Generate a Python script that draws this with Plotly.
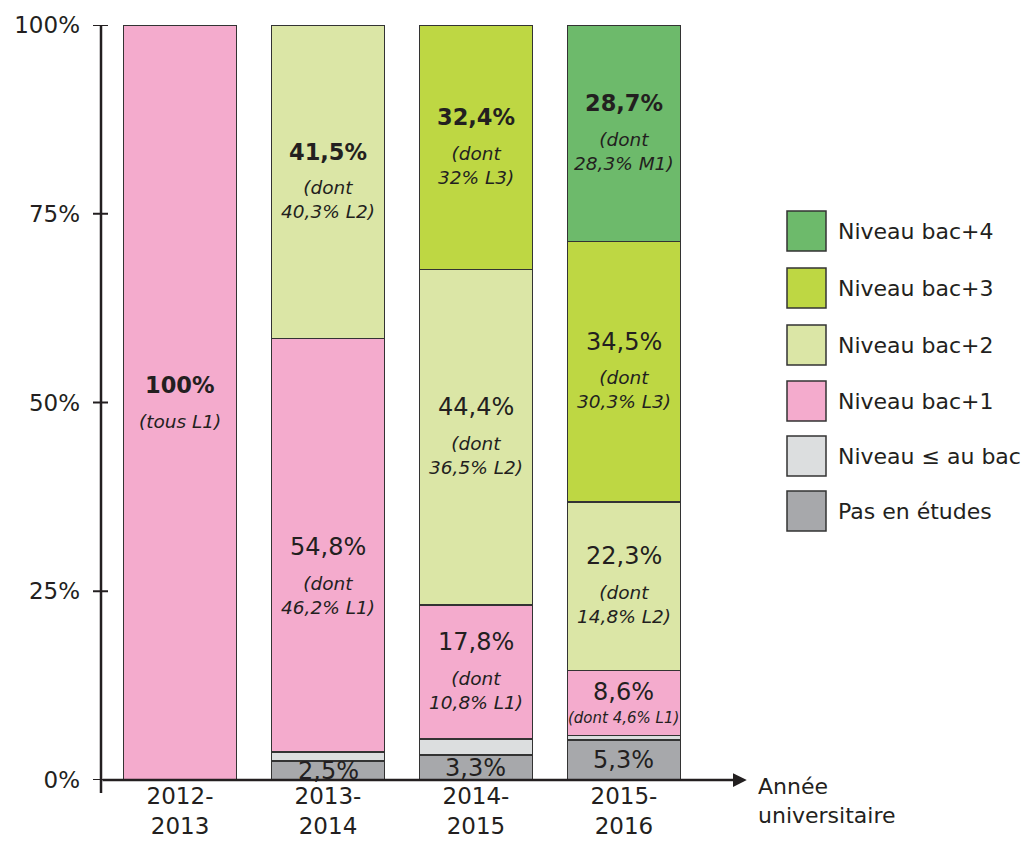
import plotly.graph_objects as go

# ---------------- data ----------------
years = ["2012-<br>2013", "2013-<br>2014", "2014-<br>2015", "2015-<br>2016"]
x_pos = [0, 1, 2, 3]

series_names = ["Pas en études", "Niveau ≤ au bac", "Niveau bac+1",
                "Niveau bac+2", "Niveau bac+3", "Niveau bac+4"]
pas_etudes = [None, 2.5, 3.3, 5.3]
niveau_le_bac = [None, 1.2, 2.1, 0.6]
bac1 = [100, 54.8, 17.8, 8.6]
bac2 = [None, 41.5, 44.4, 22.3]
bac3 = [None, None, 32.4, 34.5]
bac4 = [None, None, None, 28.7]

# main label and detail label for each series / year
main_labels = {
    "Pas en études": [None, "2,5%", "3,3%", "5,3%"],
    "Niveau ≤ au bac": [None, None, None, None],
    "Niveau bac+1": ["<b>100%</b>", "54,8%", "17,8%", "8,6%"],
    "Niveau bac+2": [None, "<b>41,5%</b>", "44,4%", "22,3%"],
    "Niveau bac+3": [None, None, "<b>32,4%</b>", "34,5%"],
    "Niveau bac+4": [None, None, None, "<b>28,7%</b>"],
}
detail_labels = {
    "Niveau bac+1": ["(tous L1)", "(dont<br>46,2% L1)", "(dont<br>10,8% L1)", "(dont 4,6% L1)"],
    "Niveau bac+2": [None, "(dont<br>40,3% L2)", "(dont<br>36,5% L2)", "(dont<br>14,8% L2)"],
    "Niveau bac+3": [None, None, "(dont<br>32% L3)", "(dont<br>30,3% L3)"],
    "Niveau bac+4": [None, None, None, "(dont<br>28,3% M1)"],
}
y_ticks = [0, 25, 50, 75, 100]
y_ticktext = ["0%", "25%", "50%", "75%", "100%"]

colors = {
    "Pas en études": "#a7a8ab",
    "Niveau ≤ au bac": "#dcdedf",
    "Niveau bac+1": "#f4abcd",
    "Niveau bac+2": "#dbe6a6",
    "Niveau bac+3": "#bed743",
    "Niveau bac+4": "#6dba6b",
}
values = {
    "Pas en études": pas_etudes,
    "Niveau ≤ au bac": niveau_le_bac,
    "Niveau bac+1": bac1,
    "Niveau bac+2": bac2,
    "Niveau bac+3": bac3,
    "Niveau bac+4": bac4,
}

FONT = "DejaVu Sans"
TXT = "#231f20"
LINE = "#333333"
BAR_W = 0.764

fig = go.Figure()
for name in series_names:
    fig.add_trace(go.Bar(
        x=x_pos, y=values[name], name=name, width=BAR_W,
        marker=dict(color=colors[name], line=dict(color=LINE, width=1.5)),
        showlegend=False, hoverinfo="skip",
    ))

annotations = []
base = [0.0] * 4
for name in series_names:
    vals = values[name]
    for i, v in enumerate(vals):
        if v is None:
            continue
        mid = base[i] + v / 2
        main = main_labels[name][i]
        det = detail_labels.get(name, [None] * 4)[i]
        if main is not None:
            if det is None:
                ms = 0
            elif "<br>" in det:
                ms = 30
            elif det.startswith("(tous"):
                ms = 18
            else:
                ms = 11
            if name == "Niveau bac+1" and i == 1:
                ms -= 32
            msize = 22.5 if main.startswith("<b>") else 24
            annotations.append(dict(
                x=x_pos[i], y=mid, xref="x", yref="y", text=main, showarrow=False,
                yshift=ms, font=dict(family=FONT, size=msize, color=TXT)))
            if det is not None:
                if "<br>" in det:
                    ds = ms - 48
                    fsize = 18.5
                elif det.startswith("(tous"):
                    ds = ms - 37
                    fsize = 18.5
                else:
                    ds = ms - 26
                    fsize = 15
                annotations.append(dict(
                    x=x_pos[i], y=mid, xref="x", yref="y", text="<i>" + det + "</i>",
                    showarrow=False, yshift=ds,
                    font=dict(family=FONT, size=fsize, color=TXT)))
        base[i] += v

# x axis arrow
annotations.append(dict(
    x=3.83, y=0, ax=-0.534, ay=0, xref="x", yref="y", axref="x", ayref="y",
    text="", showarrow=True, arrowhead=2, arrowsize=1.1, arrowwidth=2.5,
    arrowcolor="#231f20"))
# axis title
annotations.append(dict(
    x=(756 - 101) / 644, y=(780 - 801) / 755, xref="paper", yref="paper",
    xanchor="left", yanchor="middle", align="left",
    text="Année<br>universitaire", showarrow=False,
    font=dict(family=FONT, size=22, color=TXT)))

# legend (custom)
shapes = []
legend_rows = [(231, "Niveau bac+4"), (288, "Niveau bac+3"), (345, "Niveau bac+2"),
               (401, "Niveau bac+1"), (456, "Niveau ≤ au bac"), (511, "Pas en études")]
for py, name in legend_rows:
    x0 = (787 - 101) / 644
    x1 = (826 - 101) / 644
    y0 = (780 - (py + 20)) / 755
    y1 = (780 - (py - 20)) / 755
    shapes.append(dict(type="rect", xref="paper", yref="paper", x0=x0, x1=x1,
                       y0=y0, y1=y1, fillcolor=colors[name],
                       line=dict(color=LINE, width=1.5)))
    annotations.append(dict(
        x=(836 - 101) / 644, y=(780 - py) / 755, xref="paper", yref="paper",
        xanchor="left", yanchor="middle", text=name, showarrow=False,
        font=dict(family=FONT, size=22, color=TXT)))

# y axis line and crossing ticks
shapes.append(dict(type="line", xref="paper", yref="paper", x0=0, x1=0,
                   y0=-13 / 755, y1=1, line=dict(color="#231f20", width=2.5)))
for t in y_ticks:
    shapes.append(dict(type="line", xref="paper", yref="y", x0=-8 / 644, x1=7 / 644,
                       y0=t, y1=t, line=dict(color="#231f20", width=2)))

# the page body adds an 8px offset; margins compensate for it
fig.update_layout(
    barmode="stack",
    width=1029, height=841,
    margin=dict(l=93, r=292, t=17, b=69, autoexpand=False),
    plot_bgcolor="white", paper_bgcolor="white",
    font=dict(family=FONT, color=TXT),
    xaxis=dict(range=[-0.534, 3.818], tickvals=x_pos, ticktext=years,
               showgrid=False, zeroline=False, showline=False, ticks="",
               automargin=False, ticklabelstandoff=0,
               tickfont=dict(family=FONT, size=23, color=TXT)),
    yaxis=dict(range=[0, 100], tickvals=y_ticks, ticktext=y_ticktext,
               showgrid=False, zeroline=False, showline=False, ticks="",
               automargin=False, ticklabelstandoff=20,
               tickfont=dict(family=FONT, size=23, color=TXT)),
    annotations=annotations,
    shapes=shapes,
)

fig.write_html("out.html")
